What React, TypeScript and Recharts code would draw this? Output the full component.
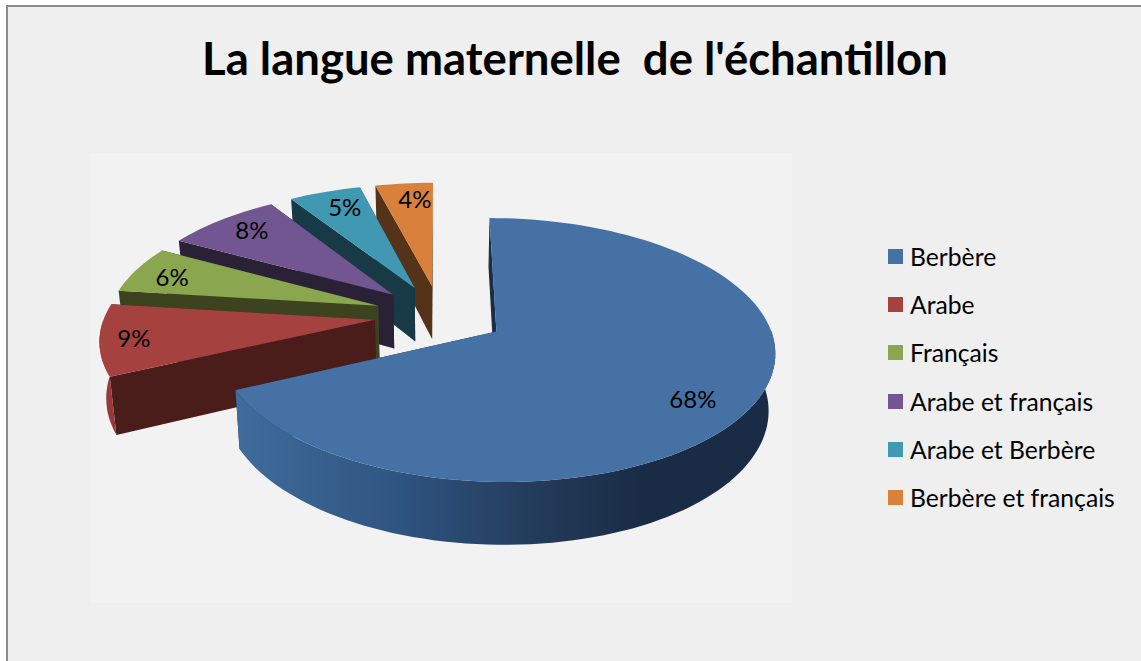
import { PieChart, Pie, Legend } from 'recharts';

const TITLE = "La langue maternelle  de l'échantillon";
const categories = ['Berbère', 'Arabe', 'Français', 'Arabe et français', 'Arabe et Berbère', 'Berbère et français'];
const percentages = [68, 9, 6, 8, 5, 4];

const topColors = ['#4571a5', '#a5413f', '#8aa64e', '#725691', '#4098b2', '#d9813b'];
const sideColors = ['#1b2e47', '#4a1c1a', '#3b431f', '#2b2136', '#183a46', '#553318'];
const rimFills = ['url(#blueRim)', '#96393a', '#3b431f', '#2b2136', '#183a46', '#553318'];
// where each percentage label sits inside its slice
const labelRadius = [0.81, 0.877, 0.844, 0.839, 0.827, 0.83];
const labelTurn = [-3.9, 0, 0.7, -1.9, -1.8, -1.95];

// drawn back to front, the big slice has to land on top of the others
const chartData = categories
  .map((name, i) => ({
    name,
    value: percentages[i],
    fill: topColors[i],
    side: sideColors[i],
    rim: rimFills[i],
    labelRadius: labelRadius[i],
    labelTurn: labelTurn[i],
  }))
  .reverse();

const SQUASH = 0.462;
const PERSPECTIVE = 0.1375;
const EXPLODE = 0.243;
const BOTTOM_SHRINK = 0.98;

const rad = (deg: number) => (deg * Math.PI) / 180;

// X, Y are in pie radii on the tilted disc plane
const project = (cx: number, cy: number, r: number, X: number, Y: number) => {
  const s = 1 / (1 - PERSPECTIVE * Y);
  return { x: cx + r * X * s, y: cy + r * SQUASH * Y * s };
};

const lower = (cx: number, Y: number, p: { x: number; y: number }) => ({
  x: cx + (p.x - cx) * BOTTOM_SHRINK,
  y: p.y + 55 + 7 * Y,
});

const toPath = (pts: { x: number; y: number }[]) =>
  'M' + pts.map((p) => `${p.x.toFixed(1)},${p.y.toFixed(1)}`).join('L') + 'Z';

const Slice3D = (props: any) => {
  const { cx, cy, outerRadius: r, startAngle, endAngle, midAngle, fill, side, rim } = props;
  const ox = EXPLODE * Math.cos(rad(midAngle));
  const oy = -EXPLODE * Math.sin(rad(midAngle));

  const steps = Math.max(2, Math.ceil(Math.abs(endAngle - startAngle) / 2));
  const world = [];
  for (let i = 0; i <= steps; i++) {
    const a = rad(startAngle + ((endAngle - startAngle) * i) / steps);
    world.push({ X: ox + Math.cos(a), Y: oy - Math.sin(a), front: -Math.sin(a) > -0.02 });
  }
  const arcTop = world.map((w) => project(cx, cy, r, w.X, w.Y));
  const arcBottom = world.map((w, i) => lower(cx, w.Y, arcTop[i]));
  const rimTop = arcTop.filter((_, i) => world[i].front);
  const rimBottom = arcBottom.filter((_, i) => world[i].front);

  const apex = project(cx, cy, r, ox, oy);
  const apexLow = lower(cx, oy, apex);
  const last = arcTop.length - 1;

  return (
    <g>
      <path d={toPath([apex, arcTop[0], arcBottom[0], apexLow])} fill={side} />
      <path d={toPath([apex, arcTop[last], arcBottom[last], apexLow])} fill={side} />
      {rimTop.length > 1 && <path d={toPath([...rimTop, ...[...rimBottom].reverse()])} fill={rim} />}
      <path d={toPath([apex, ...arcTop])} fill={fill} />
    </g>
  );
};

const renderLabel = (props: any) => {
  const { cx, cy, outerRadius: r, midAngle, value, payload } = props;
  const a = rad(midAngle + payload.labelTurn);
  const k = payload.labelRadius;
  const X = EXPLODE * Math.cos(rad(midAngle)) + k * Math.cos(a);
  const Y = -EXPLODE * Math.sin(rad(midAngle)) - k * Math.sin(a);
  const p = project(cx, cy, r, X, Y);
  return (
    <text x={p.x} y={p.y} textAnchor="middle" dominantBaseline="central" fontFamily="Lato" fontSize={24} fill="#000">
      {value}%
    </text>
  );
};

const LegendList = () => (
  <div style={{ fontFamily: 'Lato', fontSize: 24.7, color: '#000' }}>
    {categories.map((name, i) => (
      <div key={name} style={{ display: 'flex', alignItems: 'center', height: 48.3, whiteSpace: 'nowrap' }}>
        <span style={{ width: 15, height: 15, background: topColors[i], marginRight: 7 }} />
        {name}
      </div>
    ))}
  </div>
);

export default function App() {
  return (
    <div style={{ position: 'absolute', left: 0, top: 0, width: 1141, height: 661, background: '#fff', overflow: 'hidden' }}>
      <div
        style={{
          position: 'absolute',
          left: 6,
          top: 5,
          width: 1140,
          height: 670,
          boxSizing: 'border-box',
          background: '#efefef',
          border: '2px solid #8c8c8c',
        }}
      />
      <div style={{ position: 'absolute', left: 90, top: 153, width: 702, height: 450, background: '#f2f2f2' }} />
      <div
        style={{
          position: 'absolute',
          left: 0,
          top: 30,
          width: 1150,
          textAlign: 'center',
          fontFamily: 'Lato',
          fontWeight: 700,
          fontSize: 45.5,
          lineHeight: '56px',
          whiteSpace: 'pre',
          color: '#000',
        }}
      >
        {TITLE}
      </div>
      <div style={{ position: 'absolute', left: 0, top: 0 }}>
        <PieChart width={1141} height={661} margin={{ top: 0, right: 0, bottom: 0, left: 0 }}>
          <defs>
            <linearGradient id="blueRim" gradientUnits="userSpaceOnUse" x1={240} y1={0} x2={640} y2={0}>
              <stop offset="0%" stopColor="#406b9b" />
              <stop offset="40%" stopColor="#2f5480" />
              <stop offset="72%" stopColor="#243d5c" />
              <stop offset="100%" stopColor="#1a2c45" />
            </linearGradient>
          </defs>
          <Pie
            data={chartData}
            dataKey="value"
            nameKey="name"
            cx={440}
            cy={315}
            outerRadius={270}
            startAngle={90}
            endAngle={450}
            stroke="none"
            shape={Slice3D}
            label={renderLabel}
            labelLine={false}
            isAnimationActive={false}
          />
          <Legend
            content={LegendList}
            wrapperStyle={{ position: 'absolute', left: 888, top: 232, width: 250, height: 300 }}
          />
        </PieChart>
      </div>
    </div>
  );
}
